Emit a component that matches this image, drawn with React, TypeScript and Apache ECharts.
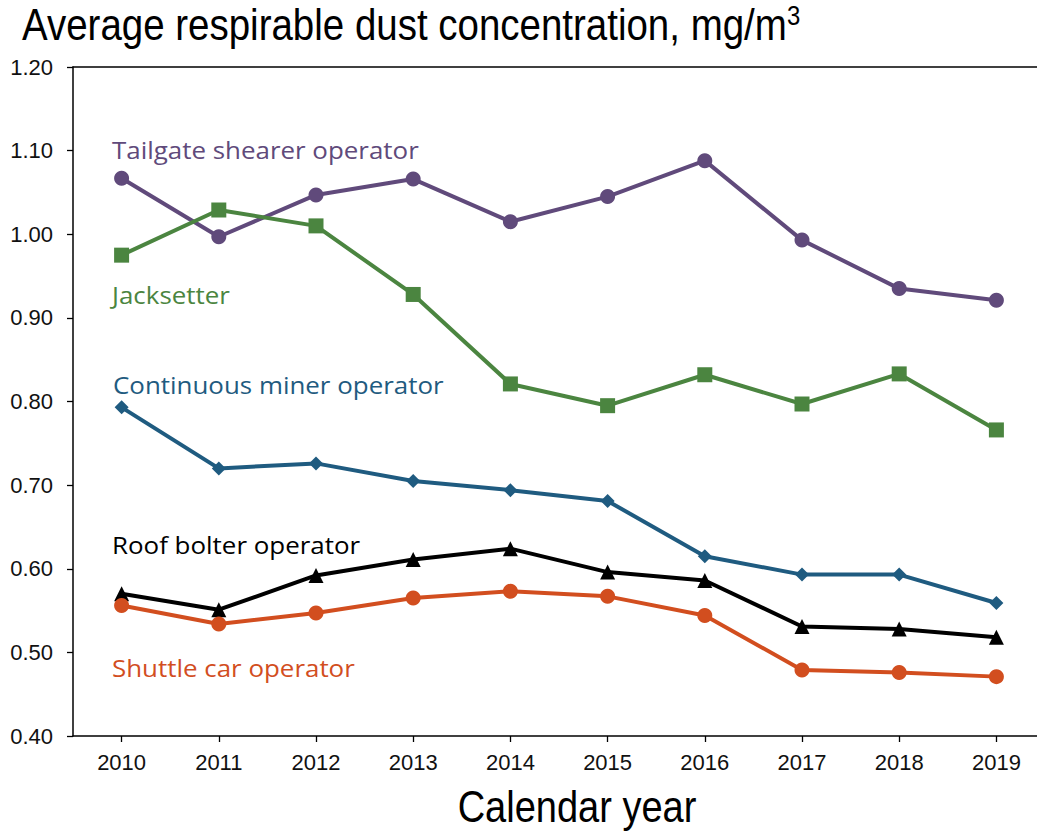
import React, { useEffect, useRef } from "react";
import * as echarts from "echarts";

const years = ["2010", "2011", "2012", "2013", "2014", "2015", "2016", "2017", "2018", "2019"];
const tailgateShearer = [1.067, 0.997, 1.047, 1.066, 1.015, 1.045, 1.088, 0.993, 0.935, 0.921];
const jacksetter = [0.975, 1.029, 1.01, 0.928, 0.821, 0.795, 0.832, 0.797, 0.833, 0.766];
const continuousMiner = [0.793, 0.72, 0.726, 0.705, 0.694, 0.681, 0.615, 0.593, 0.593, 0.559];
const roofBolter = [0.57, 0.551, 0.592, 0.611, 0.624, 0.596, 0.586, 0.531, 0.528, 0.518];
const shuttleCar = [0.556, 0.534, 0.547, 0.565, 0.573, 0.567, 0.544, 0.479, 0.476, 0.471];

const titleText = "Average respirable dust concentration, mg/m";
const titleSup = "3";
const xName = "Calendar year";

const SANS = "'Liberation Sans', Arial, sans-serif";
const LABEL_FONT = "'Open Sans', 'Noto Sans', sans-serif";

const C_PURPLE = "#604a7b";
const C_GREEN = "#4b8540";
const C_BLUE = "#1f5b80";
const C_BLACK = "#000000";
const C_ORANGE = "#d24e1f";

export default function App() {
  const ref = useRef<HTMLDivElement>(null);

  useEffect(() => {
    if (!ref.current) return;
    const chart = echarts.init(ref.current, undefined, { renderer: "svg" });

    const mkSeries = (name: string, data: number[], color: string, symbol: string, size: number, z: number) => ({
      name,
      type: "line",
      data,
      symbol,
      symbolSize: size,
      showAllSymbol: true,
      z,
      lineStyle: { color, width: 4 },
      itemStyle: { color, borderWidth: 0 },
      emphasis: { disabled: true },
    });

    const seriesLabel = (text: string, x: number, y: number, color: string) => ({
      type: "text",
      x,
      y,
      z: 100,
      scaleX: 1.08,
      style: {
        text,
        fill: color,
        font: `24px ${LABEL_FONT}`,
        textAlign: "left",
        textVerticalAlign: "middle",
      },
    });

    chart.setOption({
      animation: false,
      backgroundColor: "#ffffff",
      grid: {
        left: 73,
        top: 67,
        width: 972,
        height: 669,
        containLabel: false,
        outerBoundsMode: "none",
      },
      xAxis: [
        {
          type: "category",
          data: years,
          boundaryGap: true,
          axisLine: { show: true, lineStyle: { color: "#000", width: 1.5 } },
          axisTick: { show: true, alignWithLabel: true, length: 6, lineStyle: { color: "#000", width: 1.3 } },
          axisLabel: { color: "#111", fontSize: 22, fontFamily: SANS, margin: 15 },
          splitLine: { show: false },
        },
        {
          type: "category",
          data: years,
          position: "top",
          boundaryGap: true,
          axisLine: { show: true, lineStyle: { color: "#000", width: 1.5 } },
          axisTick: { show: false },
          axisLabel: { show: false },
          splitLine: { show: false },
        },
      ],
      yAxis: {
        type: "value",
        min: 0.4,
        max: 1.2,
        interval: 0.1,
        axisLine: { show: true, lineStyle: { color: "#000", width: 1.5 } },
        axisTick: { show: true, length: 6, lineStyle: { color: "#000", width: 1.3 } },
        axisLabel: {
          color: "#111",
          fontSize: 22,
          fontFamily: SANS,
          margin: 20,
          formatter: (v: number) => v.toFixed(2),
        },
        splitLine: { show: false },
      },
      series: [
        mkSeries("Tailgate shearer operator", tailgateShearer, C_PURPLE, "circle", 15, 2),
        mkSeries("Jacksetter", jacksetter, C_GREEN, "rect", 15, 3),
        mkSeries("Continuous miner operator", continuousMiner, C_BLUE, "diamond", 14, 4),
        mkSeries("Roof bolter operator", roofBolter, C_BLACK, "triangle", 15, 5),
        mkSeries("Shuttle car operator", shuttleCar, C_ORANGE, "circle", 15, 6),
      ],
      graphic: [
        {
          type: "text",
          x: 22,
          y: 24,
          scaleX: 0.855,
          style: {
            text: `{a|${titleText}}{s|${titleSup}}`,
            textAlign: "left",
            textVerticalAlign: "middle",
            fill: "#000",
            rich: {
              a: { fontSize: 45, fontFamily: SANS, color: "#000" },
              s: { fontSize: 28, fontFamily: SANS, color: "#000", verticalAlign: "top" },
            },
          },
        },
        {
          type: "text",
          x: 577,
          y: 806,
          scaleX: 0.845,
          style: {
            text: xName,
            fill: "#000",
            font: `45px ${SANS}`,
            textAlign: "center",
            textVerticalAlign: "middle",
          },
        },
        seriesLabel("Tailgate shearer operator", 112, 149, C_PURPLE),
        seriesLabel("Jacksetter", 112, 294, C_GREEN),
        seriesLabel("Continuous miner operator", 113, 384, C_BLUE),
        seriesLabel("Roof bolter operator", 112, 544, C_BLACK),
        seriesLabel("Shuttle car operator", 112, 667, C_ORANGE),
      ],
    });

    return () => chart.dispose();
  }, []);

  return (
    <div
      ref={ref}
      style={{ position: "fixed", left: 0, top: 0, width: 1037, height: 833, background: "#fff" }}
    />
  );
}
